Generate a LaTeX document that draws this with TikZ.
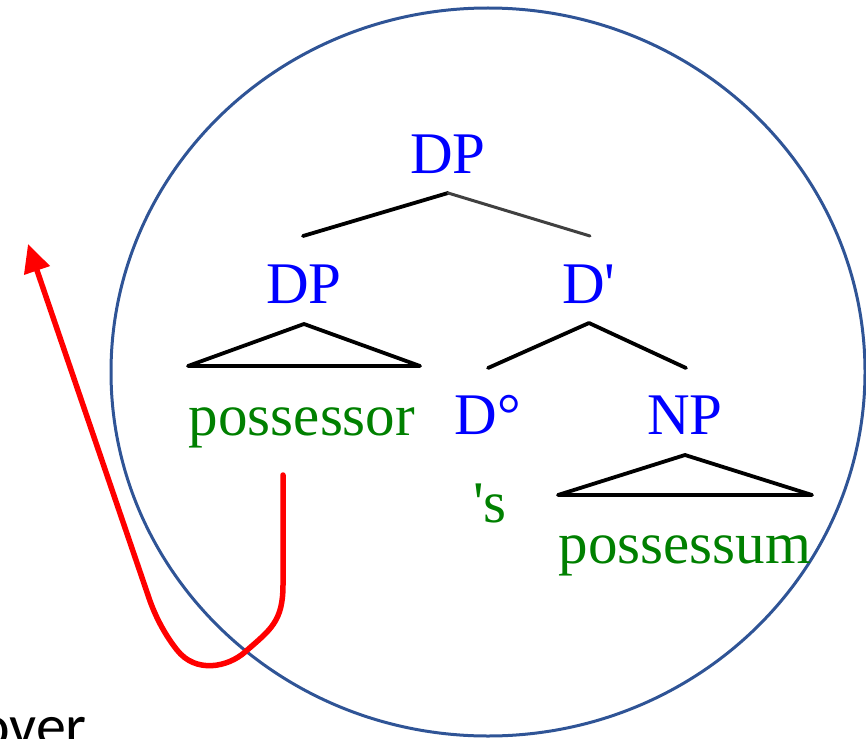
\documentclass[tikz,border=0pt]{standalone}
\usepackage{fontspec}
\newfontfamily\treefont{Liberation Serif}
\newfontfamily\slidefont{Carlito}
\usetikzlibrary{arrows.meta}
\definecolor{catblue}{RGB}{0,0,255}
\definecolor{wordgreen}{RGB}{0,128,0}
\definecolor{ringblue}{RGB}{47,84,150}

\begin{document}
\begin{tikzpicture}[
    x=1pt, y=-1pt,
    cat/.style              = {text=catblue, inner sep=0pt, anchor=base,
                               font=\treefont\fontsize{59}{60}\selectfont},
    word/.style             = {cat, text=wordgreen},
    branch/.style           = {line width=3.8pt, line cap=round, line join=round},
    ring/.style             = {draw=ringblue, line width=3pt},
    movearrow/.style        = {draw=red, line width=5.5pt, line cap=round,
                               -{Triangle[length=28pt, width=26pt]}}
    ]
      \useasboundingbox (0,0) rectangle (866,738);

      % ring -----------------------------------------------------
      \draw[ring] (488,372) ellipse [x radius=377, y radius=364];

      % labels ---------------------------------------------------
      \node[cat]  (dp0)   at (448,173) {DP};
      \node[cat]  (dp1)   at (304,303) {DP};
      \node[cat]  (dbar)  at (589,303) {D\textquotesingle};
      \node[cat]  (d0)    at (488,434) {D°};
      \node[cat]  (np)    at (685,434) {NP};
      \node[word] (poss)  at (302,435) {possessor};
      \node[word] (s)     at (490,522) {\textquotesingle s};
      \node[word] (possm) at (685,563) {possessum};
      \node[anchor=base west, inner sep=0pt,
            font=\slidefont\fontsize{60}{62}\selectfont] (over) at (-22,746) {over};

      % branch ends ----------------------------------------------
      \coordinate (dp0-top)  at (448,193);
      \coordinate (dp0-l)    at (303,236);
      \coordinate (dp0-r)    at (590,236);
      \coordinate (dp1-top)  at (304,324);
      \coordinate (dp1-l)    at (188,366);
      \coordinate (dp1-r)    at (420,366);
      \coordinate (dbar-top) at (589,323);
      \coordinate (dbar-l)   at (488,368);
      \coordinate (dbar-r)   at (686,368);
      \coordinate (np-top)   at (685,455);
      \coordinate (np-l)     at (558,495);
      \coordinate (np-r)     at (812,495);

      % branches -------------------------------------------------
      \draw[branch] (dp0-top) -- (dp0-l);
      \draw[branch, line width=3pt, black!75] (dp0-top) -- (dp0-r);
      \draw[branch] (dp1-l) -- (dp1-top) -- (dp1-r) -- cycle;
      \draw[branch] (dbar-l) -- (dbar-top) -- (dbar-r);
      \draw[branch] (np-l) -- (np-top) -- (np-r) -- cycle;

      % movement -------------------------------------------------
      \coordinate (tail) at (283,475);
      \coordinate (tip)  at (28,244);
      \draw[movearrow] (tail) -- (283,585)
            .. controls (283,622) and (270,630) .. (245,652)
            .. controls (228,667) and (196,674) .. (177,650)
            .. controls (166,636) and (157,620) .. (150,601)
            -- (tip);
    \end{tikzpicture}
\end{document}
